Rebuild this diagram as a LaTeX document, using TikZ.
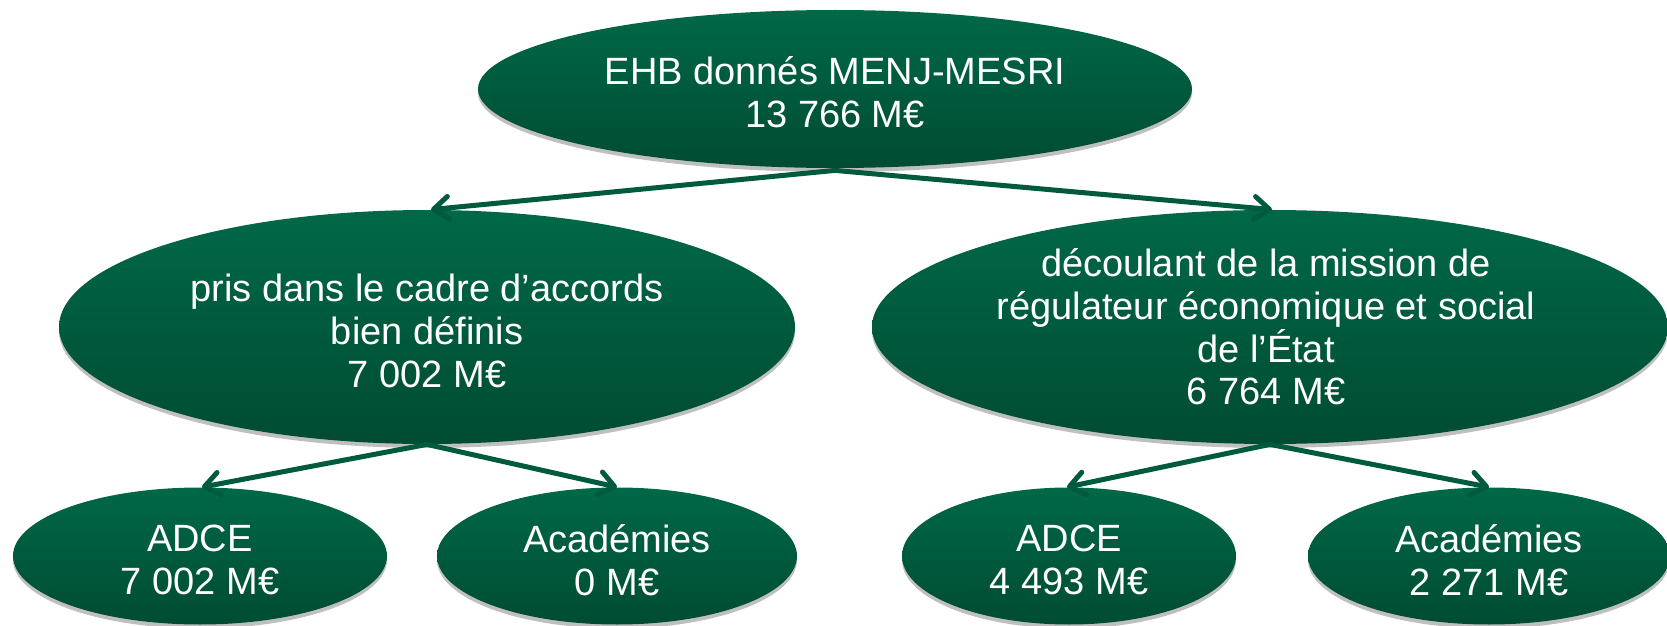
\documentclass[tikz,border=0pt]{standalone}
\usepackage{fontspec}
\setmainfont{Liberation Sans}
\usetikzlibrary{shapes.geometric,arrows.meta,shadows}
\definecolor{gtop}{RGB}{0,104,72}
\definecolor{gbot}{RGB}{0,76,50}
\definecolor{garr}{RGB}{0,90,62}
\tikzset{
  oval/.style={ellipse, inner sep=0pt, top color=gtop, bottom color=gbot, draw=none,
    drop shadow={shadow xshift=0pt, shadow yshift=-2pt, fill=black, opacity=0.25}},
  lbl/.style={text=white, align=center, font=\fontsize{19}{21.3}\selectfont, inner sep=0pt},
  arr/.style={draw=garr, line width=2.5pt, line cap=round, -{Straight Barb[length=7.5pt,width=11.5pt,round]}},
}
\begin{document}
\begin{tikzpicture}[x=0.5pt,y=-0.5pt]
\useasboundingbox (0,0) rectangle (1667,626);
% ellipses
\node[oval, minimum width=357pt, minimum height=79pt] (top) at (835,89) {};
\node[oval, minimum width=368pt, minimum height=117pt] (midL) at (427,327) {};
\node[oval, minimum width=398pt, minimum height=117pt] (midR) at (1270,327) {};
\node[oval, minimum width=187pt, minimum height=68.5pt] (adceL) at (200,556) {};
\node[oval, minimum width=180pt, minimum height=68.5pt] (acadL) at (617,556) {};
\node[oval, minimum width=167pt, minimum height=68.5pt] (adceR) at (1069,556) {};
\node[oval, minimum width=181pt, minimum height=68.5pt] (acadR) at (1489,556) {};
% texts
\node[lbl] (ttop) at ([yshift=-1.5pt]top.center) {EHB donnés MENJ-MESRI\\13 766 M€};
\node[lbl] (tmidL) at ([yshift=-2pt]midL.center) {pris dans le cadre d’accords\\bien définis\\7 002 M€};
\node[lbl] (tmidR) at ([xshift=-2pt]midR.center) {découlant de la mission de\\régulateur économique et social\\de l’État\\6 764 M€};
\node[lbl] (tadceL) at ([yshift=-2pt]adceL.center) {ADCE\\7 002 M€};
\node[lbl] (tacadL) at ([yshift=-2pt]acadL.center) {Académies\\0 M€};
\node[lbl] (tadceR) at ([yshift=-2pt]adceR.center) {ADCE\\4 493 M€};
\node[lbl] (tacadR) at ([yshift=-2pt]acadR.center) {Académies\\2 271 M€};
% connectors
\draw[arr] ([yshift=-1pt]top.south) -- ([xshift=2pt]midL.north);
\draw[arr] ([yshift=-1pt]top.south) -- ([xshift=1pt]midR.north);
\draw[arr] (midL.south) -- ([xshift=1pt]adceL.north);
\draw[arr] (midL.south) -- (acadL.north);
\draw[arr] (midR.south) -- ([xshift=-1pt]adceR.north);
\draw[arr] (midR.south) -- (acadR.north);
\end{tikzpicture}
\end{document}
